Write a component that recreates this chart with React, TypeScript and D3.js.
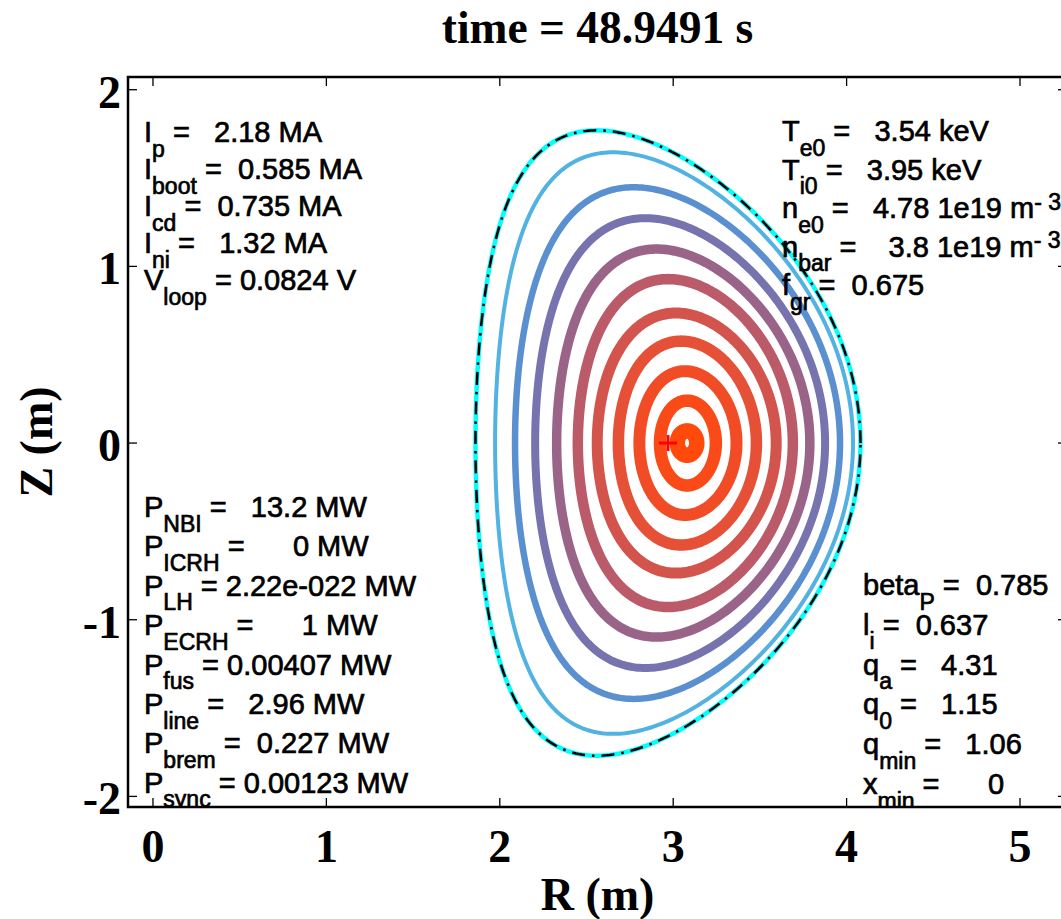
import React from 'react';
import * as d3 from 'd3';

const WIDTH = 1061;
const HEIGHT = 919;

// axes frame in pixels
const FRAME = { left: 128, right: 1067, top: 77, bottom: 807 };

// axis limits and ticks (metres)
const rLimits = [-0.144, 5.271];
const zLimits = [-2.06, 2.072];
const rTicks = [0, 1, 2, 3, 4, 5];
const zTicks = [-2, -1, 0, 1, 2];

const titleText = 'time = 48.9491 s';
const rLabel = 'R (m)';
const zLabel = 'Z (m)';

// last closed flux surface: centre R, minor radius, half height, triangularity
const lcfsShape = [2.97, 1.11, 1.77, 0.37];

// nested flux surfaces, outermost first
const surfaceCentreR = [3.005, 3.025, 3.04, 3.058, 3.07, 3.078, 3.082, 3.085, 3.085, 3.08];
const surfaceMinorRadius = [1.032, 0.937, 0.836, 0.73, 0.62, 0.516, 0.398, 0.28, 0.161, 0.056];
const surfaceHalfHeight = [1.646, 1.448, 1.273, 1.098, 0.928, 0.736, 0.577, 0.407, 0.24, 0.069];
const surfaceTriangularity = [0.34, 0.27, 0.24, 0.21, 0.16, 0.12, 0.09, 0.06, 0.03, 0];

// plasma centre marker (R, Z)
const centreMarker = [2.97, 0];

// scalar summaries
const currentLines = [
  'I_{p} =   2.18 MA',
  'I_{boot} =  0.585 MA',
  'I_{cd} =  0.735 MA',
  'I_{ni} =   1.32 MA',
  'V_{loop} = 0.0824 V',
];
const profileLines = [
  'T_{e0} =   3.54 keV',
  'T_{i0} =   3.95 keV',
  'n_{e0} =   4.78 1e19 m^{- 3}',
  'n_{bar} =    3.8 1e19 m^{- 3}',
  'f_{gr} =  0.675',
];
const powerLines = [
  'P_{NBI} =   13.2 MW',
  'P_{ICRH} =      0 MW',
  'P_{LH} = 2.22e-022 MW',
  'P_{ECRH} =      1 MW',
  'P_{fus} = 0.00407 MW',
  'P_{line} =   2.96 MW',
  'P_{brem} =  0.227 MW',
  'P_{sync} = 0.00123 MW',
];
const confinementLines = [
  'beta_{P} =  0.785',
  'l_{i} =  0.637',
  'q_{a} =   4.31',
  'q_{0} =   1.15',
  'q_{min} =   1.06',
  'x_{min} =      0',
];

// drawing styles
const surfaceColors = [
  '#52b2e2', '#5a8fd0', '#7773ae', '#9a6489', '#bb5a68',
  '#d3544d', '#e55037', '#f14c26', '#f94a17', '#ff4a0c',
];
const surfaceWidths = [4, 6.5, 8, 9.5, 10.5, 11, 11.5, 12, 12.5, 15.5];

const SANS = '"Liberation Sans", Arial, Helvetica, sans-serif';
const SERIF = '"Liberation Serif", "Times New Roman", Times, serif';
const TEXT_SIZE = 29;
const SCRIPT_SIZE = 23;
const SUB_SHIFT = 14.5;
const SUP_SHIFT = -8.5;

const x = d3.scaleLinear().domain(rLimits).range([FRAME.left, FRAME.right]);
const y = d3.scaleLinear().domain(zLimits).range([FRAME.bottom, FRAME.top]);

function surfacePoints(r0: number, a: number, b: number, delta: number, n = 360) {
  const tri = Math.asin(delta);
  return d3.range(n).map((i) => {
    const th = (2 * Math.PI * i) / n;
    return [r0 + a * Math.cos(th + tri * Math.sin(th)), b * Math.sin(th)] as [number, number];
  });
}

const surfaceLine = d3
  .line<[number, number]>()
  .x((d) => x(d[0]))
  .y((d) => y(d[1]))
  .curve(d3.curveLinearClosed);

type Part = { t: string; k: 'n' | 'sub' | 'sup' };

function parseTex(s: string): Part[] {
  const parts: Part[] = [];
  const re = /([_^])\{([^}]*)\}/g;
  let last = 0;
  let m: RegExpExecArray | null;
  while ((m = re.exec(s))) {
    if (m.index > last) parts.push({ t: s.slice(last, m.index), k: 'n' });
    parts.push({ t: m[2], k: m[1] === '_' ? 'sub' : 'sup' });
    last = re.lastIndex;
  }
  if (last < s.length) parts.push({ t: s.slice(last), k: 'n' });
  return parts;
}

function TexText({ x: px, y: py, s }: { x: number; y: number; s: string }) {
  const parts = parseTex(s);
  let cur = 0;
  return (
    <text
      x={px}
      y={py}
      fontFamily={SANS}
      fontSize={TEXT_SIZE}
      fill="#000"
      stroke="#000"
      strokeWidth={0.7}
      style={{ whiteSpace: 'pre' }}
    >
      {parts.map((p, i) => {
        const target = p.k === 'sub' ? SUB_SHIFT : p.k === 'sup' ? SUP_SHIFT : 0;
        const dy = target - cur;
        cur = target;
        return (
          <tspan key={i} dy={dy} fontSize={p.k === 'n' ? TEXT_SIZE : SCRIPT_SIZE}>
            {p.t}
          </tspan>
        );
      })}
    </text>
  );
}

function TextBlock({ lines, left, top, step }: { lines: string[]; left: number; top: number; step: number }) {
  return (
    <g>
      {lines.map((s, i) => (
        <TexText key={i} x={left} y={top + i * step} s={s} />
      ))}
    </g>
  );
}

export default function App() {
  const lcfsPath = surfaceLine(surfacePoints(lcfsShape[0], lcfsShape[1], lcfsShape[2], lcfsShape[3]));
  const surfaces = surfaceCentreR.map((r0, i) =>
    surfaceLine(surfacePoints(r0, surfaceMinorRadius[i], surfaceHalfHeight[i], surfaceTriangularity[i]))
  );
  const cx = x(centreMarker[0]);
  const cy = y(centreMarker[1]);
  const tickLen = 9;
  const frameW = FRAME.right - FRAME.left;
  const frameH = FRAME.bottom - FRAME.top;
  const midX = (FRAME.left + FRAME.right) / 2;
  const midY = (FRAME.top + FRAME.bottom) / 2;

  return (
    <svg width={WIDTH} height={HEIGHT} style={{ position: 'absolute', left: 0, top: 0, background: '#fff' }}>
      <defs>
        <clipPath id="frame-clip">
          <rect x={FRAME.left} y={FRAME.top} width={frameW} height={frameH} />
        </clipPath>
      </defs>
      <rect x={0} y={0} width={WIDTH} height={HEIGHT} fill="#fff" />

      <g clipPath="url(#frame-clip)">
        {/* boundary underlay */}
        <path d={lcfsPath ?? ''} fill="none" stroke="#00ffff" strokeWidth={4.5} />
        {/* flux surfaces */}
        {surfaces.map((d, i) => (
          <path key={i} d={d ?? ''} fill="none" stroke={surfaceColors[i]} strokeWidth={surfaceWidths[i]} />
        ))}
        {/* boundary dash-dot */}
        <path
          d={lcfsPath ?? ''}
          fill="none"
          stroke="#000"
          strokeWidth={2.5}
          strokeDasharray="13 7 2.5 7"
        />
        {/* centre marker */}
        <g stroke="#ff0000" strokeWidth={3}>
          <line x1={cx - 9} x2={cx + 9} y1={cy} y2={cy} />
          <line x1={cx} x2={cx} y1={cy - 8} y2={cy + 8} />
        </g>

        <TextBlock lines={currentLines} left={144} top={142} step={37} />
        <TextBlock lines={profileLines} left={782} top={141} step={38.5} />
        <TextBlock lines={powerLines} left={144} top={517} step={39.4} />
        <TextBlock lines={confinementLines} left={863} top={595} step={39.8} />
      </g>

      {/* ticks */}
      <g stroke="#000" strokeWidth={1.3}>
        {rTicks.map((t) => (
          <g key={`r${t}`}>
            <line x1={x(t)} x2={x(t)} y1={FRAME.bottom} y2={FRAME.bottom - tickLen} />
            <line x1={x(t)} x2={x(t)} y1={FRAME.top} y2={FRAME.top + tickLen} />
          </g>
        ))}
        {zTicks.map((t) => (
          <g key={`z${t}`}>
            <line x1={FRAME.left} x2={FRAME.left + tickLen} y1={y(t)} y2={y(t)} />
            <line x1={FRAME.right} x2={FRAME.right - tickLen} y1={y(t)} y2={y(t)} />
          </g>
        ))}
      </g>
      <rect
        x={FRAME.left}
        y={FRAME.top}
        width={frameW}
        height={frameH}
        fill="none"
        stroke="#000"
        strokeWidth={2.5}
      />

      {/* tick labels */}
      <g fontFamily={SERIF} fontWeight="bold" fontSize={46} fill="#000">
        {rTicks.map((t) => (
          <text key={`rl${t}`} x={x(t)} y={862} textAnchor="middle">
            {t}
          </text>
        ))}
        {zTicks.map((t) => (
          <text key={`zl${t}`} x={121} y={y(t) + 18} textAnchor="end">
            {t}
          </text>
        ))}
      </g>

      {/* axis labels and title */}
      <text x={midX} y={910} textAnchor="middle" fontFamily={SERIF} fontWeight="bold" fontSize={46}>
        {rLabel}
      </text>
      <text
        transform={`translate(52, ${midY}) rotate(-90)`}
        textAnchor="middle"
        fontFamily={SERIF}
        fontWeight="bold"
        fontSize={46}
      >
        {zLabel}
      </text>
      <text x={midX} y={43} textAnchor="middle" fontFamily={SERIF} fontWeight="bold" fontSize={45.5}>
        {titleText}
      </text>
    </svg>
  );
}
